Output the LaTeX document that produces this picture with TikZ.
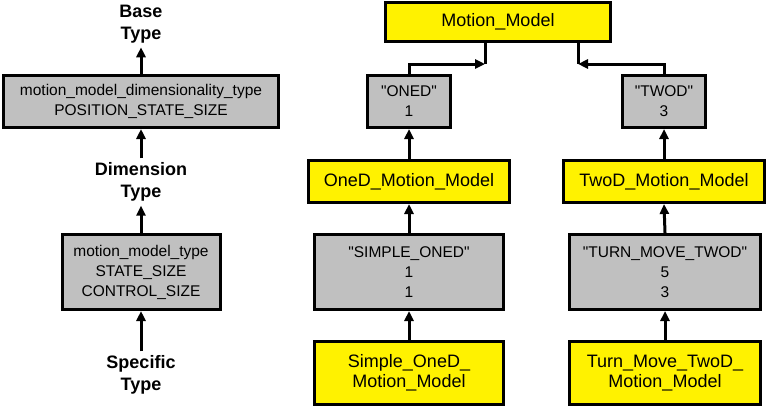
\documentclass[tikz,border=0pt]{standalone}
\usepackage{fontspec}
\setmainfont{Liberation Sans}
\usetikzlibrary{arrows.meta}
\definecolor{boxgray}{RGB}{192,192,192}

\begin{document}
\begin{tikzpicture}[x=1pt,y=-1pt,
    yellowbox/.style={draw,line width=3pt,fill=yellow,inner sep=0pt,align=center,
      font=\fontsize{18}{20}\selectfont},
    graybox/.style={draw,line width=3pt,fill=boxgray,inner sep=0pt,align=center,
      font=\fontsize{15.5}{20}\selectfont},
    typelabel/.style={inner sep=4pt,align=center,font=\bfseries\fontsize{18}{22}\selectfont},
    link/.style={line width=3pt,-{Triangle[length=10pt,width=9pt]}}]
  \useasboundingbox (0,0) rectangle (767,407);

  % Left column: type levels
  \node[typelabel] (basetype) at (141,24) {Base\\Type};
  \node[graybox,minimum width=275pt,minimum height=52pt] (dimbox) at (141,101.5)
    {motion\_model\_dimensionality\_type\\POSITION\_STATE\_SIZE};
  \node[typelabel] (dimtype) at (141,182) {Dimension\\Type};
  \node[graybox,minimum width=158pt,minimum height=75pt] (mtype) at (141,272)
    {motion\_model\_type\\STATE\_SIZE\\CONTROL\_SIZE};
  \node[typelabel] (spectype) at (141,375) {Specific\\Type};

  \draw[link] (dimbox.north) -- (basetype.south);
  \draw[link] (dimtype.north) -- (dimbox.south);
  \draw[link] (mtype.north) -- (dimtype.south);
  \draw[link] (spectype.north) -- (mtype.south);

  % Base model
  \node[yellowbox,minimum width=225pt,minimum height=39pt] (mm) at (498,22) {Motion\_Model};

  % One dimensional branch
  \node[graybox,minimum width=83pt,minimum height=52pt] (oned) at (409,101.5)
    {\textquotedbl ONED\textquotedbl\\1};
  \node[yellowbox,minimum width=201pt,minimum height=42pt] (onedmm) at (409,181.5) {OneD\_Motion\_Model};
  \node[graybox,minimum width=189pt,minimum height=75pt] (simple) at (409,272)
    {\textquotedbl SIMPLE\_ONED\textquotedbl\\1\\1};
  \node[yellowbox,minimum width=189pt,minimum height=63pt] (simplemm) at (409,373) {Simple\_OneD\_\\Motion\_Model};

  % Two dimensional branch
  \node[graybox,minimum width=83pt,minimum height=52pt] (twod) at (664,101.5)
    {\textquotedbl TWOD\textquotedbl\\3};
  \node[yellowbox,minimum width=201pt,minimum height=42pt] (twodmm) at (664,181.5) {TwoD\_Motion\_Model};
  \node[graybox,minimum width=191pt,minimum height=75pt] (turn) at (665,272)
    {\textquotedbl TURN\_MOVE\_TWOD\textquotedbl\\5\\3};
  \node[yellowbox,minimum width=191pt,minimum height=63pt] (turnmm) at (665,373) {Turn\_Move\_TwoD\_\\Motion\_Model};

  % Links up the branches
  \draw[link] (onedmm.north) -- (oned.south);
  \draw[link] (simple.north) -- (onedmm.south);
  \draw[link] (simplemm.north) -- (simple.south);
  \draw[link] (twodmm.north) -- (twod.south);
  \draw[link] (turn.north) -- (twodmm.south);
  \draw[link] (turnmm.north) -- (turn.south);

  % Links into the base model
  \coordinate (jone) at (485,64);
  \coordinate (jtwo) at (578,64);
  \draw[line width=3pt] (mm.south -| jone) -- (jone);
  \draw[line width=3pt] (mm.south -| jtwo) -- (jtwo);
  \draw[link] (oned.north) |- (jone);
  \draw[link] (twod.north) |- (jtwo);
\end{tikzpicture}
\end{document}
